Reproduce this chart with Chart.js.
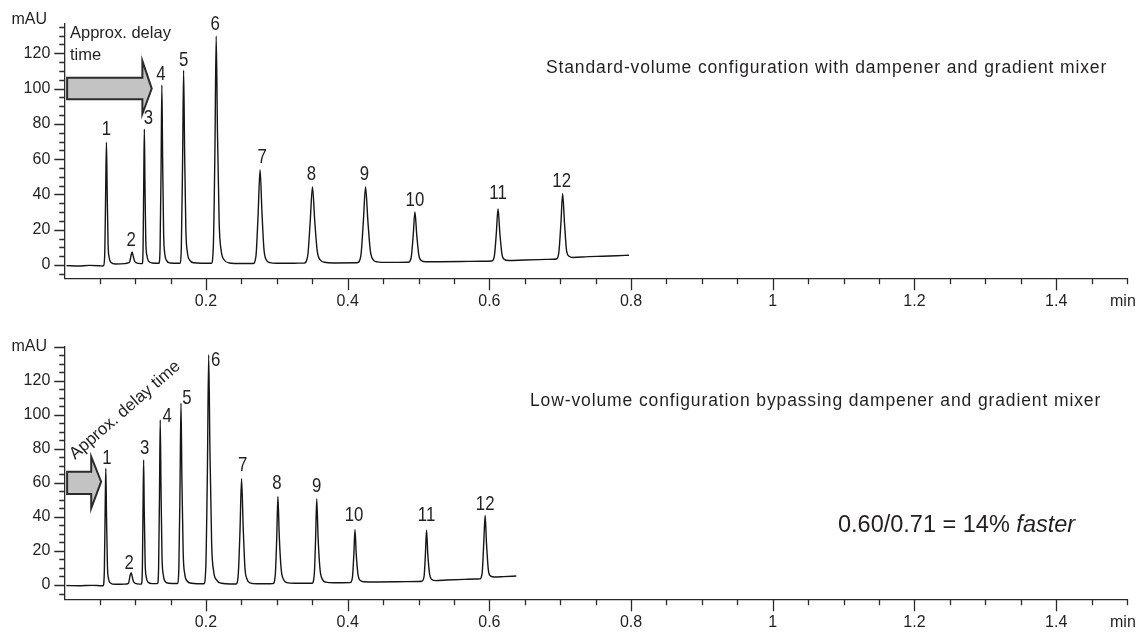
<!DOCTYPE html>
<html>
<head>
<meta charset="utf-8">
<script src="https://cdn.jsdelivr.net/npm/chart.js@4.4.1/dist/chart.umd.min.js"></script>
<style>
  html, body { margin: 0; padding: 0; background: #fff; }
  #wrap { position: relative; width: 1141px; height: 632px; overflow: hidden; }
  canvas { position: absolute; left: 0; }
  #topChart { top: 0; }
  #bottomChart { top: 316px; }
</style>
</head>
<body>
<div id="wrap">
  <canvas id="topChart" width="1141" height="316"></canvas>
  <canvas id="bottomChart" width="1141" height="316"></canvas>
</div>
<script>
// Peak numbers
const peakNames = ["1", "2", "3", "4", "5", "6", "7", "8", "9", "10", "11", "12"];

// Standard-volume run: retention time (min) and absorbance (mAU)
const stdTime = [
  0.003, 0.02, 0.035, 0.05, 0.054,
  0.0555, 0.0572, 0.0585, 0.0595, 0.0605, 0.0618, 0.0635, 0.066, 0.072,
  0.085, 0.09,
  0.0925, 0.0945, 0.0958, 0.097, 0.099, 0.102, 0.108,
  0.110, 0.1112, 0.1122, 0.113, 0.1138, 0.115, 0.1168, 0.119, 0.124,
  0.1335, 0.1352, 0.1366, 0.1377, 0.1388, 0.1402, 0.142, 0.1445, 0.149,
  0.163, 0.1652, 0.167, 0.1684, 0.1698, 0.1716, 0.1738, 0.177, 0.183,
  0.2075, 0.2103, 0.2126, 0.2144, 0.2162, 0.2186, 0.2215, 0.2255, 0.233,
  0.25, 0.26,
  0.2665, 0.2705, 0.2735, 0.2763, 0.279, 0.2818, 0.285, 0.29, 0.30,
  0.32, 0.33,
  0.3385, 0.3435, 0.347, 0.3503, 0.3535, 0.357, 0.361, 0.367, 0.38,
  0.4135, 0.4185, 0.422, 0.4252, 0.4285, 0.432, 0.436, 0.442, 0.455,
  0.4855, 0.4895, 0.4925, 0.4949, 0.4975, 0.5005, 0.504, 0.51, 0.53,
  0.56, 0.59,
  0.6035, 0.607, 0.6098, 0.6122, 0.6148, 0.6178, 0.621, 0.627, 0.65,
  0.68, 0.69,
  0.6945, 0.698, 0.701, 0.7034, 0.706, 0.709, 0.7125, 0.718, 0.74,
  0.76, 0.78, 0.797
];
const stdSignal = [
  -0.3, -0.5, -0.2, -0.4, -0.5,
  -0.3, 8, 45, 69.6, 42, 12, 4, 1.5, 0.6,
  0.8, 1.2,
  2.0, 6, 7.5, 5.5, 2.5, 1.2, 0.8,
  0.8, 10, 50, 77, 48, 14, 5, 2.2, 1.2,
  1.0, 10, 55, 102, 60, 18, 6, 2.5, 1.2,
  1.0, 10, 60, 110.4, 65, 20, 7, 2.8, 1.3,
  1.0, 10, 65, 129.8, 75, 24, 8, 3, 1.2,
  0.9, 0.9,
  0.9, 5, 28, 54, 30, 9, 3, 1.4, 1.0,
  1.0, 1.1,
  1.1, 5, 24, 44.2, 25, 8, 3, 1.6, 1.2,
  1.3, 5, 24, 44.2, 25, 8, 3, 1.8, 1.5,
  1.6, 4, 17, 30.1, 17, 5.5, 2.5, 1.9, 1.9,
  2.0, 2.2,
  2.3, 5, 18, 32, 18, 6, 3.2, 2.6, 2.9,
  3.2, 3.3,
  3.4, 7, 24, 40.5, 24, 8, 5, 4.3, 4.8,
  5.0, 5.3, 5.6
];

// Low-volume run
const lowTime = [
  0.003, 0.02, 0.04, 0.053,
  0.0548, 0.0565, 0.0577, 0.0586, 0.0596, 0.0609, 0.0626, 0.065, 0.072,
  0.085,
  0.0905, 0.093, 0.0944, 0.0957, 0.0975, 0.1005, 0.106,
  0.1088, 0.1102, 0.1112, 0.112, 0.1128, 0.1141, 0.1158, 0.118, 0.124,
  0.1315, 0.1331, 0.1344, 0.1354, 0.1365, 0.1379, 0.1397, 0.142, 0.147,
  0.1595, 0.1617, 0.1634, 0.1647, 0.166, 0.1678, 0.170, 0.173, 0.180,
  0.197, 0.1997, 0.202, 0.2038, 0.2056, 0.208, 0.2108, 0.2148, 0.222,
  0.235,
  0.2425, 0.2455, 0.248, 0.2502, 0.2525, 0.255, 0.2578, 0.262, 0.272,
  0.285,
  0.2945, 0.2978, 0.2998, 0.3015, 0.3034, 0.3062, 0.3095, 0.314, 0.325,
  0.34,
  0.3495, 0.3528, 0.3547, 0.3563, 0.3582, 0.361, 0.3643, 0.369, 0.38,
  0.4035, 0.4067, 0.4087, 0.4103, 0.4121, 0.4148, 0.418, 0.423, 0.44,
  0.47, 0.50,
  0.5045, 0.5078, 0.5097, 0.5113, 0.5131, 0.5158, 0.519, 0.524, 0.54,
  0.565, 0.58,
  0.5865, 0.5898, 0.592, 0.594, 0.596, 0.5988, 0.602, 0.607, 0.62, 0.638
];
const lowSignal = [
  -0.3, -0.4, -0.2, -0.4,
  -0.4, 8, 45, 68.6, 40, 11, 3.5, 1.2, 0.4,
  0.5,
  1.0, 5.8, 7.3, 5.2, 2.2, 0.9, 0.5,
  0.5, 10, 48, 73.5, 45, 13, 4.5, 1.8, 0.8,
  0.8, 10, 55, 97, 57, 17, 6, 2.3, 1.0,
  0.9, 10, 60, 106.9, 62, 19, 6.5, 2.5, 1.0,
  0.7, 10, 68, 135.3, 78, 24, 8, 3, 1.0,
  0.6,
  0.6, 6, 32, 62.4, 34, 10, 3.5, 1.3, 0.7,
  0.7,
  0.8, 6, 27, 52, 29, 9, 3.2, 1.4, 1.0,
  1.0,
  1.0, 6, 27, 50.6, 28, 9, 3.3, 1.7, 1.3,
  1.4, 4.5, 18, 32.7, 18, 5.5, 2.6, 1.9, 1.8,
  1.9, 2.1,
  2.2, 5, 18, 32.4, 18, 6, 3.2, 2.6, 2.9,
  3.3, 3.5,
  3.6, 7, 24, 40.8, 24, 8, 5.2, 4.7, 4.9, 5.3
];

// Peak apexes (time, height) used to place the peak numbers
const stdPeakTime = [0.0595, 0.0958, 0.113, 0.1377, 0.1684, 0.2144, 0.2763, 0.3503, 0.4252, 0.4949, 0.6122, 0.7034];
const stdPeakHeight = [69.6, 7.5, 77, 102, 110.4, 129.8, 54, 44.2, 44.2, 30.1, 32, 40.5];
const lowPeakTime = [0.0586, 0.0944, 0.112, 0.1354, 0.1647, 0.2038, 0.2502, 0.3015, 0.3563, 0.4103, 0.5113, 0.594];
const lowPeakHeight = [68.6, 7.3, 73.5, 97, 106.9, 135.3, 62.4, 52, 50.6, 32.7, 32.4, 40.8];

const TEXT = "#231f20";
const AXIS = "#2a2a2a";
const FAMILY = '"Liberation Sans", sans-serif';

// label nudges (px) relative to each apex
const stdLabelShift = [[0, -13], [-1, -12], [4, -11], [-1, -11], [0, -10], [-1, -12], [2, -13], [-1, -13], [-1, -13], [0, -12], [0, -15], [-1, -12]];
const lowLabelShift = [[1, -10], [-2, -9], [1, -12], [7, -4], [6, -5], [7, 6], [1, -14], [-1, -13], [0, -13], [-1, -14], [0, -15], [0, -11]];

function isStep(v, step) {
    const r = v / step;
    return Math.abs(r - Math.round(r)) < 1e-6;
}

// tick marks (long on labelled values, short otherwise), plus the unit labels
const axisMarks = {
    id: "axisMarks",
    afterDraw(chart, args, opts) {
        const { ctx, scales: { x, y } } = chart;
        ctx.save();
        ctx.strokeStyle = AXIS;
        ctx.lineWidth = 1.3;
        ctx.beginPath();
        x.ticks.forEach(t => {
            if (t.value <= 0.001) return;
            const px = Math.round(x.getPixelForValue(t.value)) + 0.5;
            const len = isStep(t.value, 0.2) ? 12 : 6;
            ctx.moveTo(px, x.top);
            ctx.lineTo(px, x.top + len);
        });
        y.ticks.forEach(t => {
            const py = Math.round(y.getPixelForValue(t.value)) + 0.5;
            const len = isStep(t.value, 20) ? 10 : 5;
            ctx.moveTo(y.right - len, py);
            ctx.lineTo(y.right, py);
        });
        ctx.stroke();
        ctx.fillStyle = TEXT;
        ctx.font = "16px " + FAMILY;
        ctx.textBaseline = "middle";
        ctx.textAlign = "right";
        ctx.fillText("mAU", 47, y.top + opts.unitShift);
        ctx.textAlign = "left";
        ctx.fillText("min", 1110, x.top + 23);
        ctx.restore();
    }
};

// peak numbers, drawn a little condensed like the original lettering
const peakLabels = {
    id: "peakLabels",
    afterDatasetsDraw(chart, args, opts) {
        const { ctx, scales: { x, y } } = chart;
        ctx.save();
        ctx.fillStyle = TEXT;
        ctx.font = "21px " + FAMILY;
        ctx.textAlign = "center";
        ctx.textBaseline = "middle";
        opts.times.forEach((t, i) => {
            const px = x.getPixelForValue(t) + opts.shift[i][0];
            const py = y.getPixelForValue(opts.heights[i]) + opts.shift[i][1];
            ctx.save();
            ctx.translate(px, py);
            ctx.scale(0.8, 1);
            ctx.fillText(peakNames[i], 0, 0);
            ctx.restore();
        });
        ctx.restore();
    }
};

// block arrow given in data coordinates
function drawArrow(ctx, x, y, a) {
    const X = v => x.getPixelForValue(v);
    const Y = v => y.getPixelForValue(v);
    ctx.save();
    ctx.beginPath();
    ctx.moveTo(X(a.tail), Y(a.shaftTop));
    ctx.lineTo(X(a.headBase), Y(a.shaftTop));
    ctx.lineTo(X(a.headBase), Y(a.headTop));
    ctx.lineTo(X(a.tip), Y(a.mid));
    ctx.lineTo(X(a.headBase), Y(a.headBottom));
    ctx.lineTo(X(a.headBase), Y(a.shaftBottom));
    ctx.lineTo(X(a.tail), Y(a.shaftBottom));
    ctx.closePath();
    ctx.fillStyle = "#c3c3c3";
    ctx.fill();
    ctx.strokeStyle = "#2b2b2b";
    ctx.lineWidth = 2;
    ctx.lineJoin = "miter";
    ctx.stroke();
    ctx.restore();
}

function spacedText(ctx, text, x, y, width) {
    ctx.letterSpacing = "0px";
    const w = ctx.measureText(text).width;
    ctx.letterSpacing = ((width - w) / (text.length - 1)).toFixed(2) + "px";
    ctx.fillText(text, x, y);
    ctx.letterSpacing = "0px";
}

const topNotes = {
    id: "topNotes",
    afterDatasetsDraw(chart) {
        const { ctx, scales: { x, y } } = chart;
        drawArrow(ctx, x, y, { tail: 0.004, headBase: 0.1102, tip: 0.1234, shaftTop: 106.2, shaftBottom: 94, headTop: 115.7, headBottom: 85.6, mid: 100 });
        ctx.save();
        ctx.fillStyle = TEXT;
        ctx.font = "16.5px " + FAMILY;
        ctx.textAlign = "left";
        ctx.textBaseline = "middle";
        ctx.fillText("Approx. delay", 70, 33);
        ctx.fillText("time", 70, 55);
        ctx.textBaseline = "alphabetic";
        ctx.font = "17.5px " + FAMILY;
        spacedText(ctx, "Standard-volume configuration with dampener and gradient mixer", 546, 73, 560);
        ctx.restore();
    }
};

const bottomNotes = {
    id: "bottomNotes",
    afterDatasetsDraw(chart) {
        const { ctx, scales: { x, y } } = chart;
        drawArrow(ctx, x, y, { tail: 0.004, headBase: 0.038, tip: 0.052, shaftTop: 66.5, shaftBottom: 53.5, headTop: 75.4, headBottom: 45.1, mid: 60.7 });
        ctx.save();
        ctx.fillStyle = TEXT;
        ctx.textBaseline = "alphabetic";
        ctx.save();
        ctx.font = "17px " + FAMILY;
        ctx.translate(75, 144);
        ctx.rotate(-41 * Math.PI / 180);
        ctx.textAlign = "left";
        ctx.fillText("Approx. delay time", 0, 0);
        ctx.restore();
        ctx.font = "17.5px " + FAMILY;
        spacedText(ctx, "Low-volume configuration bypassing dampener and gradient mixer", 530, 90, 570);
        ctx.font = "23.5px " + FAMILY;
        const main = "0.60/0.71 = 14% ";
        ctx.fillText(main, 838, 216);
        const w = ctx.measureText(main).width;
        ctx.font = "italic 23.5px " + FAMILY;
        ctx.fillText("faster", 838 + w, 216);
        ctx.restore();
    }
};

function makeChart(canvasId, time, signal, peakTime, peakHeight, shift, yMin, yMax, padTop, xHeight, unitShift, notes) {
    const points = time.map((t, i) => ({ x: t, y: signal[i] }));
    return new Chart(document.getElementById(canvasId), {
        type: "line",
        data: {
            datasets: [{
                data: points,
                borderColor: "#151515",
                borderWidth: 1.4,
                pointRadius: 0,
                fill: false,
                cubicInterpolationMode: "monotone"
            }]
        },
        options: {
            responsive: false,
            animation: false,
            events: [],
            layout: { padding: { top: padTop, right: 1, left: 0, bottom: 0 } },
            plugins: {
                legend: { display: false },
                tooltip: { enabled: false },
                peakLabels: { times: peakTime, heights: peakHeight, shift: shift },
                axisMarks: { unitShift: unitShift }
            },
            scales: {
                x: {
                    type: "linear",
                    min: 0,
                    max: 1.5,
                    afterFit: s => { s.height = xHeight; },
                    grid: { display: false, drawTicks: false },
                    border: { color: AXIS, width: 1.3 },
                    ticks: {
                        stepSize: 0.05,
                        maxTicksLimit: 1000,
                        autoSkip: false,
                        maxRotation: 0,
                        includeBounds: false,
                        padding: 14,
                        color: TEXT,
                        font: { family: FAMILY, size: 16 },
                        callback: v => (v > 0.001 && isStep(v, 0.2)) ? String(Number(v.toFixed(1))) : ""
                    }
                },
                y: {
                    min: yMin,
                    max: yMax,
                    afterFit: s => { s.width = 64.3; },
                    grid: { display: false, drawTicks: false },
                    border: { color: AXIS, width: 1.3 },
                    ticks: {
                        stepSize: 5,
                        maxTicksLimit: 1000,
                        autoSkip: false,
                        includeBounds: false,
                        padding: 14,
                        color: TEXT,
                        font: { family: FAMILY, size: 16 },
                        callback: v => (v < 125 && isStep(v, 20)) ? String(Math.round(v)) : ""
                    }
                }
            }
        },
        plugins: [axisMarks, peakLabels, notes]
    });
}

makeChart("topChart", stdTime, stdSignal, stdPeakTime, stdPeakHeight, stdLabelShift, -7.5, 136.6, 24, 37.7, -4, topNotes);
makeChart("bottomChart", lowTime, lowSignal, lowPeakTime, lowPeakHeight, lowLabelShift, -8.4, 140, 30.7, 32.7, 0, bottomNotes);
</script>
</body>
</html>
